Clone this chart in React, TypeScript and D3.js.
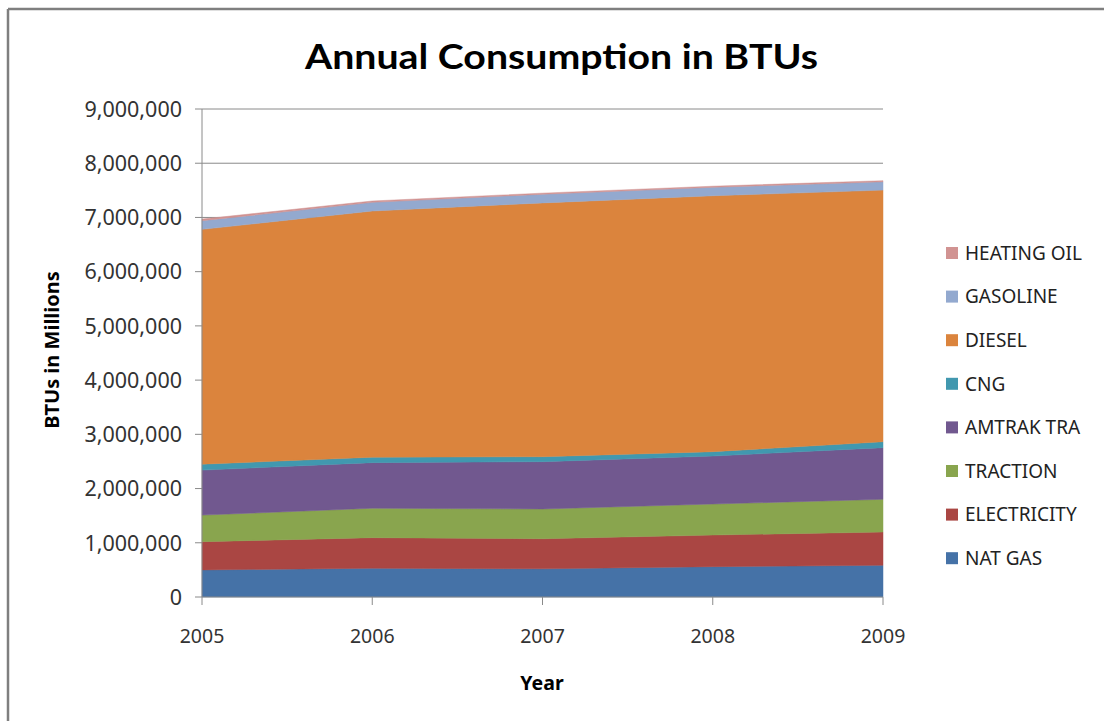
import React from "react";
import * as d3 from "d3";

// Annual fuel / energy consumption, BTUs (in millions), stacked by source
const years = [2005, 2006, 2007, 2008, 2009];
const natGas = [500000, 530000, 520000, 560000, 585000];
const electricity = [520000, 565000, 555000, 583000, 614000];
const traction = [490000, 542000, 548000, 572000, 603000];
const amtrakTra = [830000, 841000, 873000, 885000, 952000];
const cng = [110000, 100000, 92000, 80000, 110000];
const diesel = [4330000, 4540000, 4680000, 4720000, 4640000];
const gasoline = [160000, 160000, 160000, 156000, 154000];
const heatingOil = [30000, 25000, 20000, 20000, 20000];

const seriesNames = ["NAT GAS", "ELECTRICITY", "TRACTION", "AMTRAK TRA", "CNG", "DIESEL", "GASOLINE", "HEATING OIL"];
const seriesValues = [natGas, electricity, traction, amtrakTra, cng, diesel, gasoline, heatingOil];
const seriesColors = ["#4572A7", "#AA4643", "#89A54E", "#71588F", "#4198AF", "#DB843D", "#93A9CF", "#D19392"];
const yTicks = [0, 1000000, 2000000, 3000000, 4000000, 5000000, 6000000, 7000000, 8000000, 9000000];

const W = 1104;
const H = 721;
const plot = { left: 202, right: 883, top: 109, bottom: 597 };
const FONT = "'Noto Sans', 'Open Sans', sans-serif";
const TITLE_FONT = "Lato, 'Noto Sans', sans-serif";

export default function App() {
  const rows = years.map((yr, i) => {
    const r: Record<string, number> = { year: yr };
    seriesNames.forEach((n, k) => (r[n] = seriesValues[k][i]));
    return r;
  });

  const stacked = d3.stack<Record<string, number>>().keys(seriesNames)(rows);

  const x = d3.scaleLinear().domain([years[0], years[years.length - 1]]).range([plot.left, plot.right]);
  const y = d3.scaleLinear().domain([0, 9000000]).range([plot.bottom, plot.top]);

  const area = d3
    .area<d3.SeriesPoint<Record<string, number>>>()
    .x((d) => x(d.data.year))
    .y0((d) => y(d[0]))
    .y1((d) => y(d[1]));

  const fmt = d3.format(",");
  const legendTop = 253;
  const legendStep = 43.6;

  return (
    <svg
      width={W}
      height={H}
      style={{ position: "absolute", left: 0, top: 0, background: "#fff" }}
      fontFamily={FONT}
    >
      {/* chart frame */}
      <line x1={8} y1={9} x2={W} y2={9} stroke="#7f7f7f" strokeWidth={2.5} />
      <line x1={8} y1={9} x2={8} y2={H} stroke="#7f7f7f" strokeWidth={2.5} />

      <text
        x={305}
        y={69}
        fontFamily={TITLE_FONT}
        fontSize={35}
        fontWeight="bold"
        fill="#000"
        textLength={513}
        lengthAdjust="spacingAndGlyphs"
      >
        Annual Consumption in BTUs
      </text>

      {/* gridlines and y ticks */}
      {yTicks.map((t) => (
        <g key={t}>
          <line x1={plot.left - 7} x2={t === 0 ? plot.left : plot.right} y1={y(t)} y2={y(t)} stroke="#8a8a8a" strokeWidth={1} />
          <text x={182} y={y(t)} dy="0.36em" textAnchor="end" fontSize={21.5} fill="#333">
            {fmt(t)}
          </text>
        </g>
      ))}

      {/* stacked areas */}
      {stacked.map((s, i) => (
        <path key={s.key} d={area(s) || ""} fill={seriesColors[i]} stroke={seriesColors[i]} strokeWidth={0.5} />
      ))}

      {/* axes */}
      <line x1={plot.left} x2={plot.left} y1={plot.top} y2={plot.bottom} stroke="#8a8a8a" strokeWidth={1} />
      <line x1={plot.left} x2={plot.right} y1={plot.bottom} y2={plot.bottom} stroke="#8a8a8a" strokeWidth={1} />
      {years.map((yr) => (
        <g key={yr}>
          <line x1={x(yr)} x2={x(yr)} y1={plot.bottom} y2={plot.bottom + 8} stroke="#8a8a8a" strokeWidth={1} />
          <text x={x(yr)} y={643} textAnchor="middle" fontSize={19.5} fill="#333">
            {yr}
          </text>
        </g>
      ))}

      <text x={542} y={690} textAnchor="middle" fontSize={19.5} fontWeight="bold" fill="#000">
        Year
      </text>
      <text
        transform={`translate(59, ${(plot.top + plot.bottom) / 2 - 3}) rotate(-90)`}
        textAnchor="middle"
        fontSize={20}
        fontWeight="bold"
        fill="#000"
      >
        BTUs in Millions
      </text>

      {/* legend, top entry is the top of the stack */}
      {seriesNames
        .map((n, i) => ({ n, c: seriesColors[i] }))
        .reverse()
        .map((d, j) => {
          const cy = legendTop + j * legendStep;
          return (
            <g key={d.n}>
              <rect x={946} y={cy - 6} width={12} height={12} fill={d.c} />
              <text x={965} y={cy} dy="0.36em" fontSize={19} fill="#222">
                {d.n}
              </text>
            </g>
          );
        })}
    </svg>
  );
}
